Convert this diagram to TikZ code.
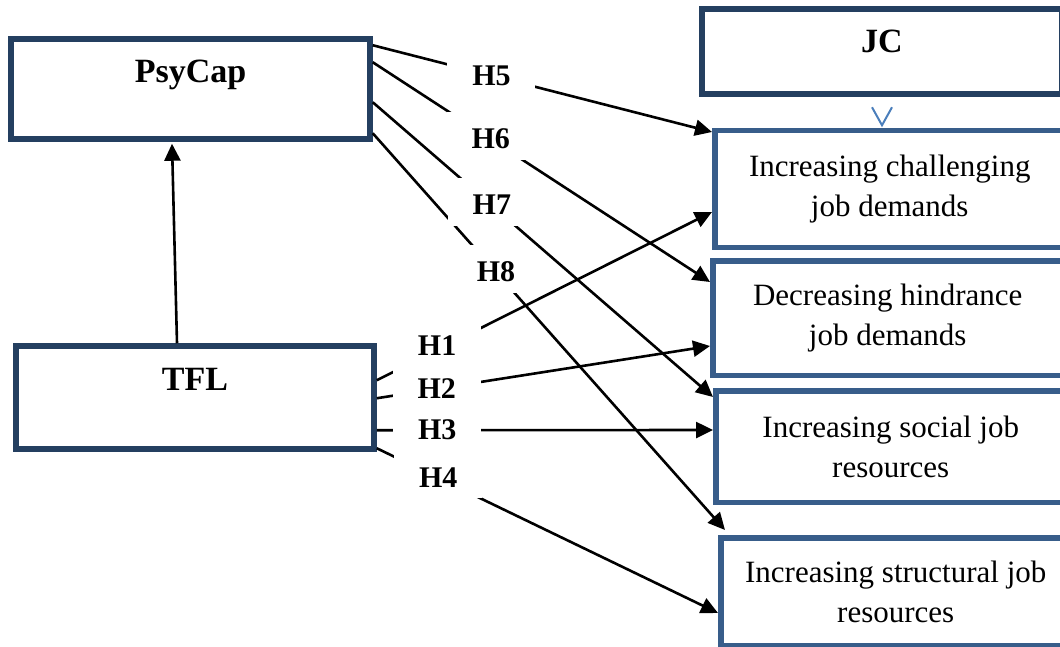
\documentclass[tikz,border=0pt]{standalone}
\usepackage{fontspec}
\setmainfont{Liberation Serif}
\usepackage{tikz}
\usetikzlibrary{calc,arrows.meta}
\definecolor{navy}{RGB}{36,63,96}
\definecolor{steel}{RGB}{56,93,138}
\definecolor{chev}{RGB}{74,126,187}

\begin{document}
\begin{tikzpicture}[x=1pt,y=-1pt,
    mainbox/.style={draw=navy,line width=5.5pt,inner sep=0pt,font=\bfseries\fontsize{34}{40}\selectfont},
    jdbox/.style={draw=steel,line width=5.5pt,inner sep=0pt,align=center,minimum width=350pt,font=\fontsize{31}{40}\selectfont},
    hyp/.style={fill=white,inner sep=0pt,minimum width=88pt,text height=37pt,text depth=11pt,yshift=3.5pt,font=\bfseries\fontsize{30}{36}\selectfont},
    link/.style={line width=2.6pt,-{Triangle[length=17pt,width=16pt]}}]
    \useasboundingbox (0,0) rectangle (1060,647);
    \node[mainbox,minimum width=359pt,text height=44pt,text depth=56pt] (psy) at (190.5,89) {PsyCap};
    \node[mainbox,minimum width=358pt,text height=44pt,text depth=59pt] (tfl) at (195,397.5) {TFL};
    \node[mainbox,line width=6.5pt,minimum width=360pt,text height=44pt,text depth=41pt] (jc) at (882,51.5) {JC};
    \node[jdbox,minimum height=116.5pt] (chal) at (889.75,189) {Increasing challenging\\job demands};
    \node[jdbox,minimum height=114.5pt] (hind) at (887.75,318) {Decreasing hindrance\\job demands};
    \node[jdbox,minimum height=111.5pt] (soc) at (890.75,446.5) {Increasing social job\\resources};
    \node[jdbox,minimum height=107.5pt] (struc) at (895.75,591.5) {Increasing structural job\\resources};
    \draw[draw=chev,line width=2pt] ($(jc.south)+(-10,10)$) -- ($(jc.south)+(0,28)$) -- ($(jc.south)+(10,10)$);
    \draw[link] ($(tfl.north)+(-18,0)$) -- ($(psy.south)+(-18.5,2)$);
    \draw[link] ($(psy.north east)+(0,97)$) -- node[hyp,pos=0.35] (h8) {H8} ($(struc.north west)+(7,-5)$);
    \draw[link] ($(psy.north east)+(0,66)$) -- node[hyp,pos=0.35] (h7) {H7} ($(soc.north west)+(0,9)$);
    \draw[link] ($(psy.north east)+(0,26)$) -- node[hyp,pos=0.35] (h6) {H6} ($(hind.north west)+(0,24)$);
    \draw[link] ($(psy.north east)+(0,9)$) -- node[hyp,pos=0.35] (h5) {H5} ($(chal.north west)+(0,4)$);
    \draw[link] ($(tfl.north east)+(0,37)$) -- node[hyp,pos=0.18,yshift=4pt] (h1) {H1} ($(chal.north west)+(0,84)$);
    \draw[link] ($(tfl.north east)+(0,55)$) -- node[hyp,pos=0.18] (h2) {H2} ($(hind.north west)+(0,88)$);
    \draw[link] ($(tfl.north east)+(0,87)$) -- node[hyp,pos=0.18] (h3) {H3} ($(soc.north west)+(0,42)$);
    \draw[link] ($(tfl.north east)+(0,105)$) -- node[hyp,pos=0.18] (h4) {H4} ($(struc.north west)+(0,78)$);
\end{tikzpicture}
\end{document}
